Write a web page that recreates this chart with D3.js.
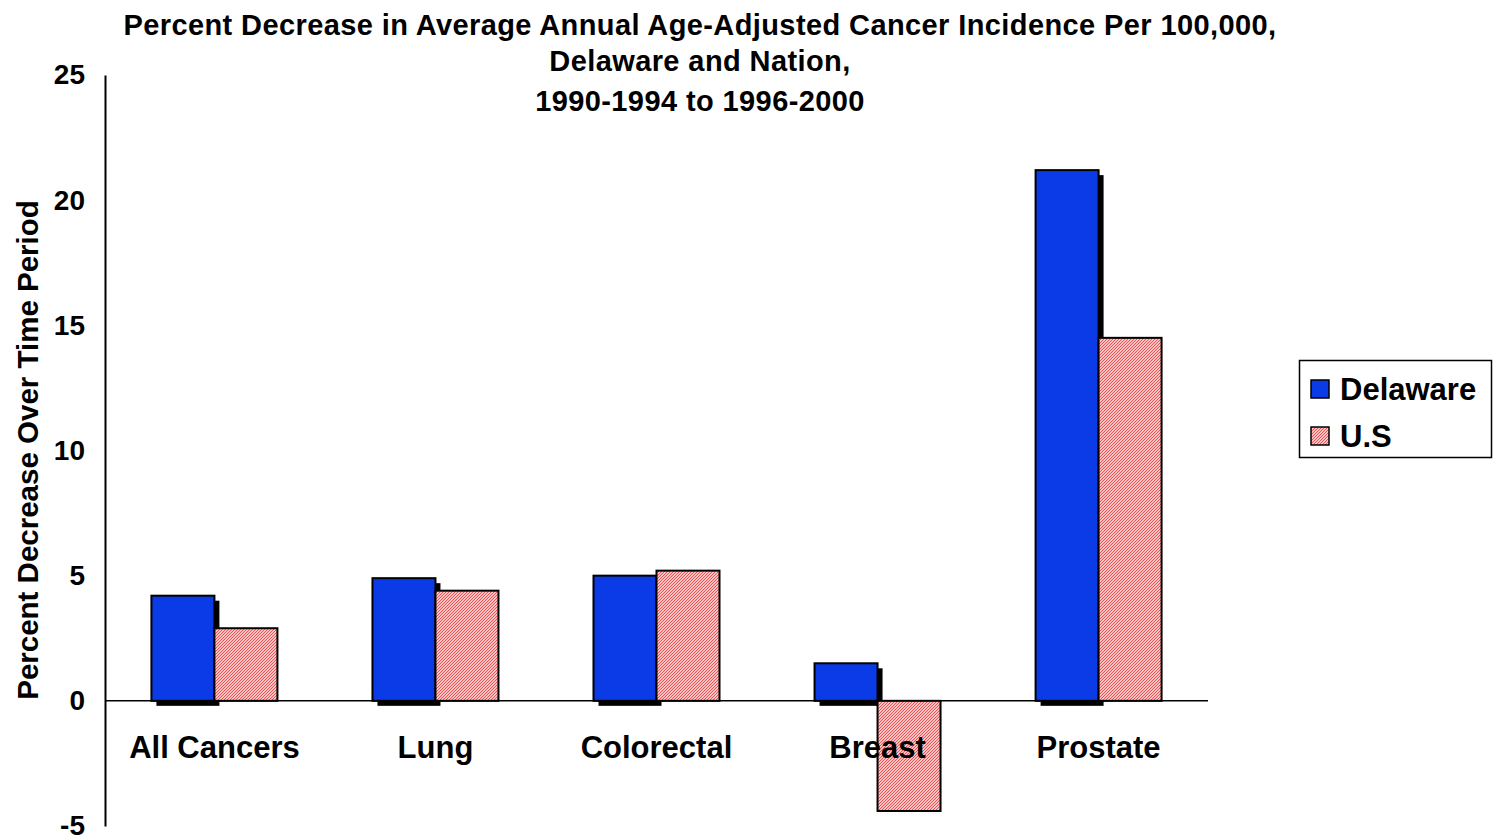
<!DOCTYPE html>
<html><head><meta charset="utf-8">
<script src="https://cdn.jsdelivr.net/npm/d3@7"></script>
<style>body{margin:0;background:#fff;}svg{display:block;font-family:"Liberation Sans",Arial,sans-serif;}</style>
</head><body>
<svg id="c" width="1495" height="840"></svg>
<script>
const categories = ["All Cancers","Lung","Colorectal","Breast","Prostate"];
const seriesNames = ["Delaware","U.S"];
const delaware = [4.2, 4.9, 5.0, 1.5, 21.2];
const us = [2.9, 4.4, 5.2, -4.4, 14.5];
const yTicks = [-5, 0, 5, 10, 15, 20, 25];
const titleLines = ["Percent Decrease in Average Annual Age-Adjusted Cancer Incidence Per 100,000,","Delaware and Nation,","1990-1994 to 1996-2000"];
const yLabel = "Percent Decrease Over Time Period";

const svg = d3.select("#c");
const defs = svg.append("defs");
const pat = defs.append("pattern").attr("id","hatch").attr("patternUnits","userSpaceOnUse")
  .attr("width",3).attr("height",3);
pat.append("rect").attr("width",3).attr("height",3).attr("fill","#fff4f4");
pat.append("path").attr("d","M-1,1 l2,-2 M0,3 l3,-3 M2,4 l2,-2").attr("stroke","#f04848").attr("stroke-width",1.1);

const left = 105, right = 1208;
const y = d3.scaleLinear().domain([-5,25]).range([826,75]);
const x = d3.scaleBand().domain(categories).range([left,right]).paddingInner(0.43).paddingOuter(0.21);
const xs = d3.scaleBand().domain(seriesNames).range([0,x.bandwidth()]);

// title
svg.append("g").selectAll("text").data(titleLines).join("text")
  .attr("x",700).attr("y",(d,i)=>[35,71,111][i]).attr("text-anchor","middle")
  .attr("font-size",29).attr("font-weight","bold").attr("letter-spacing",0.4).text(d=>d);

// y label
svg.append("text").attr("transform","translate(38,450) rotate(-90)").attr("text-anchor","middle")
  .attr("font-size",29.5).attr("font-weight","bold").text(yLabel);

// y axis
const yAxis = d3.axisLeft(y).tickValues(yTicks).tickSize(0).tickPadding(20).tickFormat(d=>String(d));
const ga = svg.append("g").attr("transform",`translate(${left},0)`).call(yAxis);
ga.select(".domain").attr("stroke","#000").attr("stroke-width",2);
ga.selectAll("text").attr("font-size",28).attr("font-weight","bold").attr("fill","#000")
  .attr("font-family","Liberation Sans, Arial, sans-serif");

// shadows for Delaware
const bw = xs.bandwidth();
svg.append("g").selectAll("rect").data(categories).join("rect")
  .attr("x",d=>x(d)+xs("Delaware")+5)
  .attr("y",(d,i)=>Math.min(y(delaware[i]),y(0))+5)
  .attr("width",bw).attr("height",(d,i)=>Math.abs(y(delaware[i])-y(0)))
  .attr("fill","#000");

// zero line
svg.append("line").attr("x1",left).attr("x2",right).attr("y1",y(0)).attr("y2",y(0))
  .attr("stroke","#000").attr("stroke-width",1.5);

// Delaware bars
svg.append("g").selectAll("rect").data(categories).join("rect")
  .attr("x",d=>x(d)+xs("Delaware"))
  .attr("y",(d,i)=>Math.min(y(delaware[i]),y(0)))
  .attr("width",bw).attr("height",(d,i)=>Math.abs(y(delaware[i])-y(0)))
  .attr("fill","#0a3be6").attr("stroke","#000").attr("stroke-width",2);

// US bars
svg.append("g").selectAll("rect").data(categories).join("rect")
  .attr("x",d=>x(d)+xs("U.S"))
  .attr("y",(d,i)=>Math.min(y(us[i]),y(0)))
  .attr("width",bw).attr("height",(d,i)=>Math.abs(y(us[i])-y(0)))
  .attr("fill","url(#hatch)").attr("stroke","#000").attr("stroke-width",2);

// category labels (drawn on top)
svg.append("g").selectAll("text").data(categories).join("text")
  .attr("x",d=>x(d)+x.bandwidth()/2).attr("y",758).attr("text-anchor","middle")
  .attr("font-size",31).attr("font-weight","bold").text(d=>d);

// legend
const lg = svg.append("g");
lg.append("rect").attr("x",1299.5).attr("y",360.5).attr("width",192).attr("height",97)
  .attr("fill","#fff").attr("stroke","#000").attr("stroke-width",1.5);
const fills = ["#0a3be6","url(#hatch)"];
seriesNames.forEach((s,i)=>{
  const cy = [389,436][i];
  lg.append("rect").attr("x",1311).attr("y",cy-9).attr("width",18).attr("height",18)
    .attr("fill",fills[i]).attr("stroke","#000").attr("stroke-width",1.5);
  lg.append("text").attr("x",1340).attr("y",[400,447][i]).attr("font-size",31).attr("font-weight","bold").text(s);
});
</script>
</body></html>
